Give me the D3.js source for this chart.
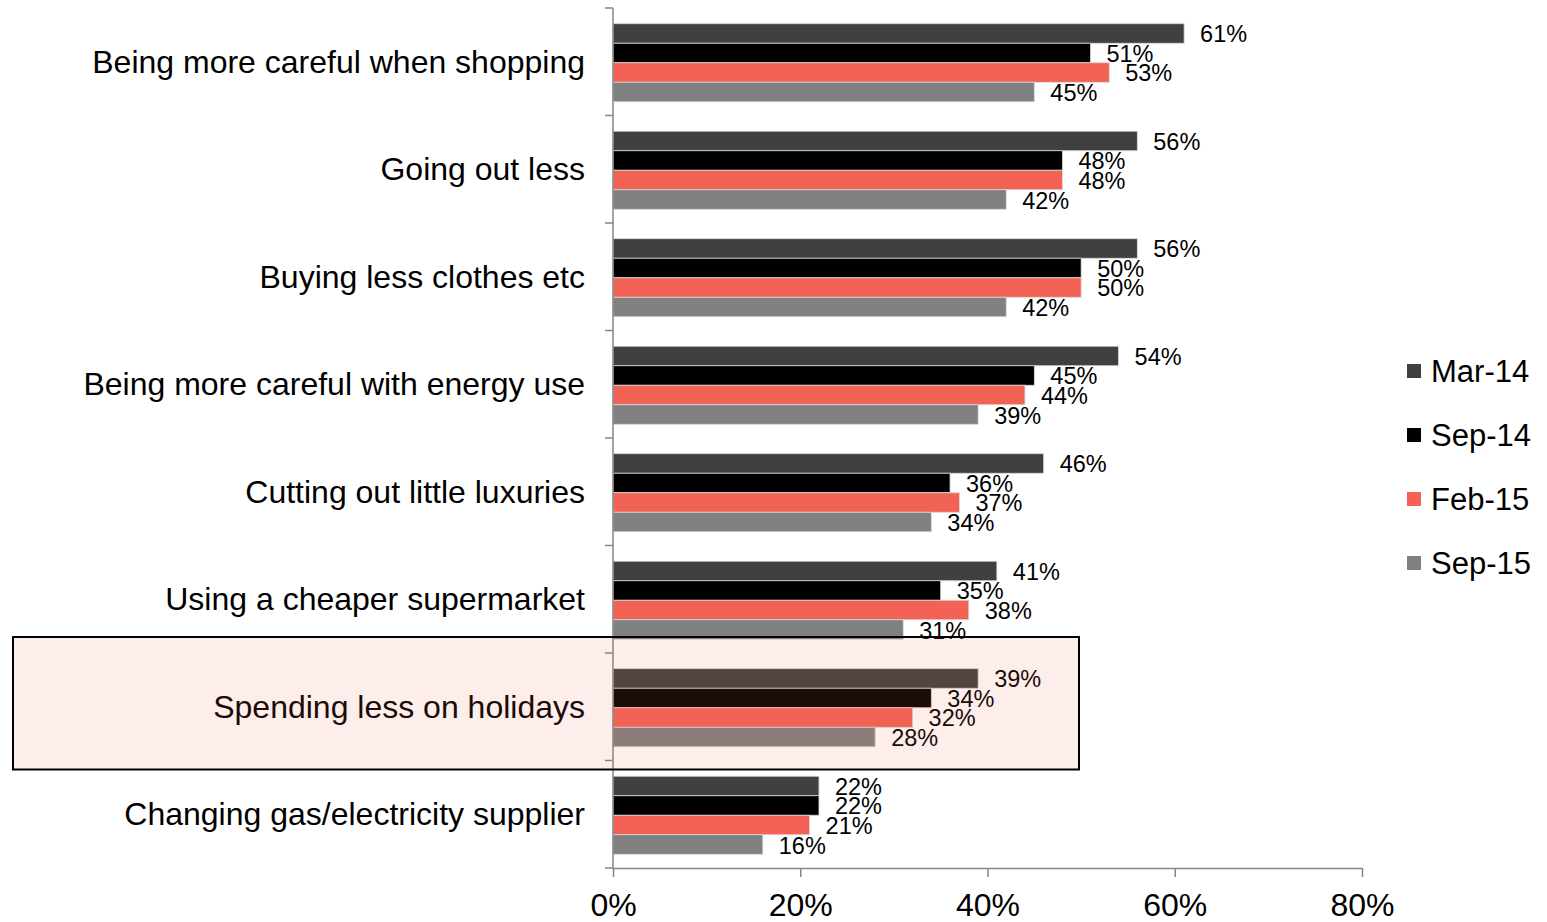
<!DOCTYPE html>
<html>
<head>
<meta charset="utf-8">
<script src="https://cdn.jsdelivr.net/npm/d3@7"></script>
<style>
  html, body { margin: 0; padding: 0; background: #fff; }
  svg { display: block; font-family: "Liberation Sans", Arial, sans-serif; }
</style>
</head>
<body>
<svg id="chart" width="1547" height="922"></svg>
<script>
// Categories, top to bottom
const categories = [
  "Being more careful when shopping",
  "Going out less",
  "Buying less clothes etc",
  "Being more careful with energy use",
  "Cutting out little luxuries",
  "Using a cheaper supermarket",
  "Spending less on holidays",
  "Changing gas/electricity supplier"
];

// Survey waves
const seriesNames = ["Mar-14", "Sep-14", "Feb-15", "Sep-15"];
const seriesColors = ["#404040", "#000000", "#f26355", "#808080"];

// Share of respondents per wave (%)
const mar14 = [61, 56, 56, 54, 46, 41, 39, 22];
const sep14 = [51, 48, 50, 45, 36, 35, 34, 22];
const feb15 = [53, 48, 50, 44, 37, 38, 32, 21];
const sep15 = [45, 42, 42, 39, 34, 31, 28, 16];
const seriesValues = [mar14, sep14, feb15, sep15];

const xTicks = [0, 20, 40, 60, 80];
const highlighted = "Spending less on holidays";

const svg = d3.select("#chart");

const x = d3.scaleLinear().domain([0, 80]).range([613, 1362]);
const y = d3.scaleBand().domain(categories).range([8, 868])
  .paddingInner(0.274).paddingOuter(0.137);
const ySub = d3.scaleBand().domain(seriesNames).range([0, y.bandwidth()]);

const rows = categories.map((c, i) => ({
  category: c,
  values: seriesNames.map((s, j) => ({ series: s, color: seriesColors[j], value: seriesValues[j][i] }))
}));

// Bars
const groups = svg.append("g").selectAll("g").data(rows).join("g")
  .attr("transform", d => `translate(0,${y(d.category) + 1})`);

groups.selectAll("rect").data(d => d.values).join("rect")
  .attr("x", x(0))
  .attr("y", d => ySub(d.series))
  .attr("width", d => x(d.value) - x(0))
  .attr("height", ySub.bandwidth())
  .attr("fill", d => d.color)
  .attr("stroke", "#d9d9d9")
  .attr("stroke-width", 0.8);

// Value labels
groups.selectAll("text").data(d => d.values).join("text")
  .attr("x", d => x(d.value) + 16)
  .attr("y", d => ySub(d.series) + ySub.bandwidth() / 2 + 9)
  .attr("font-size", 23.5)
  .attr("fill", "#000")
  .text(d => d.value + "%");

// Vertical category axis
const yBounds = d3.range(categories.length + 1).map(i => 8 + i * y.step());
const yAxis = svg.append("g");
yAxis.append("line")
  .attr("x1", x(0)).attr("x2", x(0))
  .attr("y1", yBounds[0]).attr("y2", yBounds[yBounds.length - 1])
  .attr("stroke", "#868686").attr("stroke-width", 1.5);
yAxis.selectAll("line.tick").data(yBounds).join("line")
  .attr("class", "tick")
  .attr("x1", x(0) - 8).attr("x2", x(0))
  .attr("y1", d => d).attr("y2", d => d)
  .attr("stroke", "#868686").attr("stroke-width", 1.5);

// Category labels
svg.append("g").selectAll("text").data(categories).join("text")
  .attr("x", 585)
  .attr("y", d => y(d) + y.bandwidth() / 2 + 11)
  .attr("text-anchor", "end")
  .attr("font-size", 32)
  .attr("fill", "#000")
  .text(d => d);

// Horizontal value axis
const xAxis = d3.axisBottom(x)
  .tickValues(xTicks)
  .tickFormat(d => d + "%")
  .tickSize(9)
  .tickSizeOuter(0)
  .tickPadding(16);
const xg = svg.append("g").attr("transform", `translate(0,${yBounds[yBounds.length - 1]})`).call(xAxis);
xg.select(".domain").attr("stroke", "#868686").attr("stroke-width", 1.5);
xg.selectAll(".tick line").attr("stroke", "#868686").attr("stroke-width", 1.5);
xg.selectAll(".tick text")
  .attr("font-size", 32)
  .attr("fill", "#000");

// Legend
const legend = svg.append("g").selectAll("g").data(seriesNames).join("g")
  .attr("transform", (d, i) => `translate(1407,${371 + i * 64})`);
legend.append("rect")
  .attr("x", 0).attr("y", -7).attr("width", 14).attr("height", 14)
  .attr("fill", (d, i) => seriesColors[i]);
legend.append("text")
  .attr("x", 24).attr("y", 11)
  .attr("font-size", 31)
  .attr("fill", "#000")
  .text(d => d);

// Highlight box around one category
const hIdx = categories.indexOf(highlighted);
svg.append("rect")
  .attr("x", 13)
  .attr("y", yBounds[hIdx] - 16)
  .attr("width", 1066)
  .attr("height", y.step() + 25)
  .attr("fill", "rgb(237,96,79)")
  .attr("fill-opacity", 0.114)
  .attr("stroke", "#000")
  .attr("stroke-width", 2);
</script>
</body>
</html>
